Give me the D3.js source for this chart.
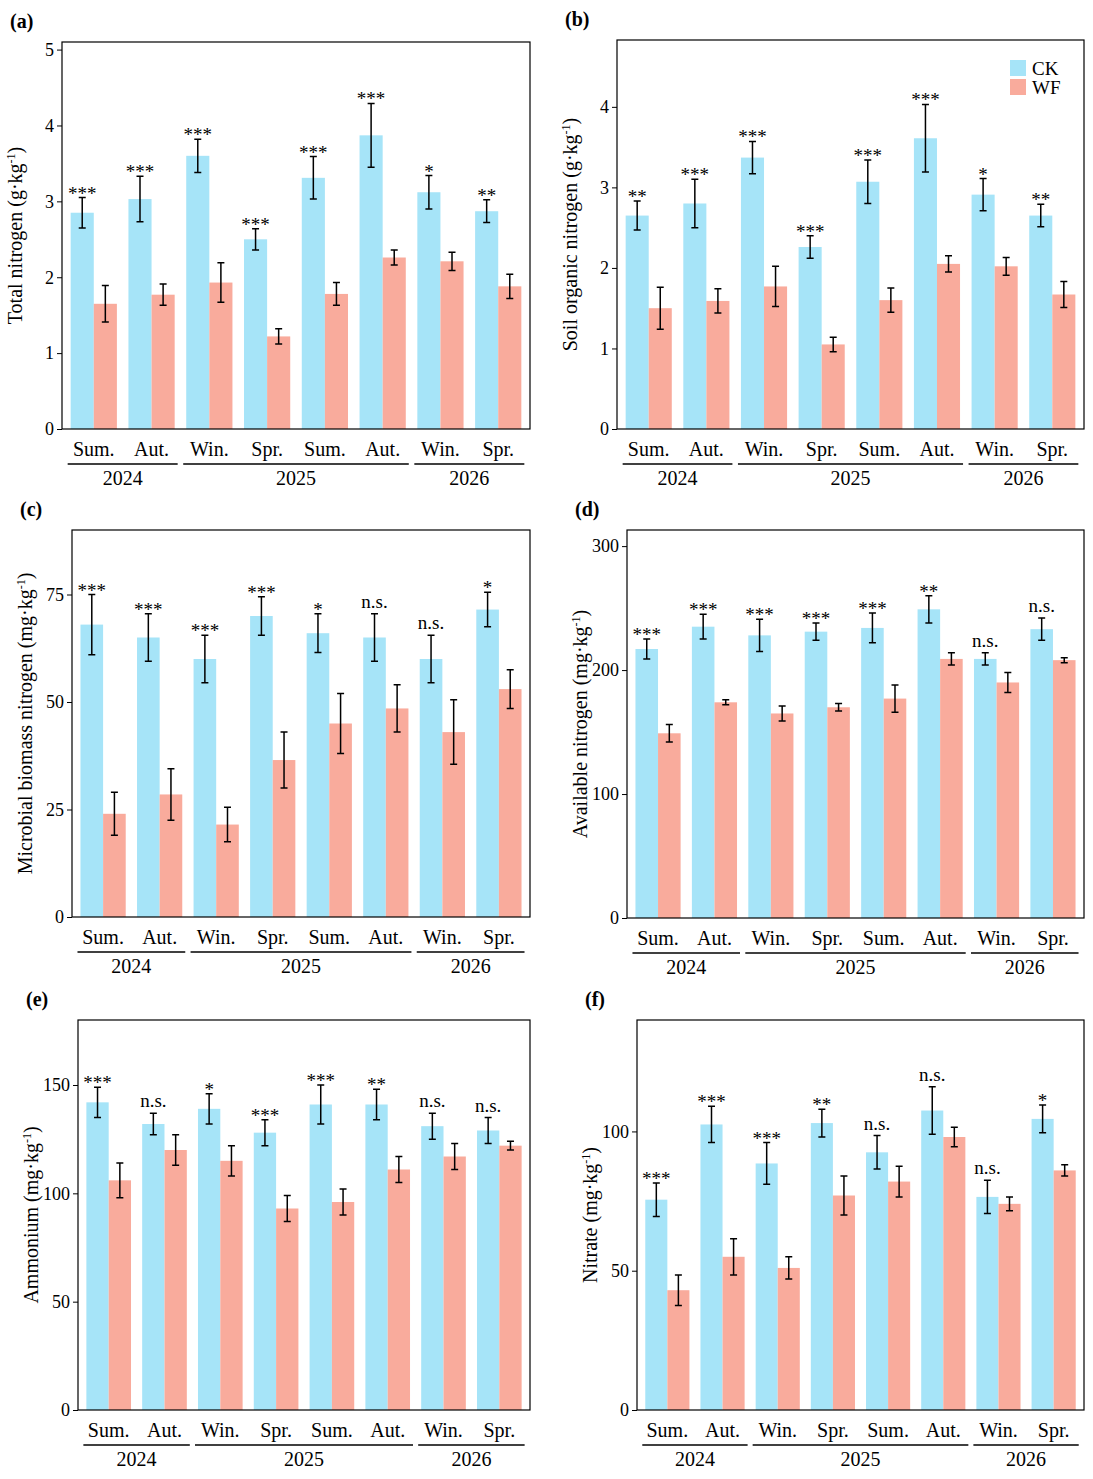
<!DOCTYPE html>
<html>
<head>
<script src="https://cdnjs.cloudflare.com/ajax/libs/d3/7.8.5/d3.min.js"></script>
<style>body{margin:0;background:#fff}text{font-family:"Liberation Serif","Times New Roman",serif}</style>
</head>
<body>
<script>
var seasons = ["Sum.","Aut.","Win.","Spr.","Sum.","Aut.","Win.","Spr."];
var years = [{label:"2024",from:0,to:1},{label:"2025",from:2,to:5},{label:"2026",from:6,to:7}];

var tnCK = [2.85,3.03,3.6,2.5,3.31,3.87,3.12,2.87], tnCKe = [0.2,0.3,0.22,0.14,0.28,0.42,0.22,0.15];
var tnWF = [1.65,1.77,1.93,1.22,1.78,2.26,2.21,1.88], tnWFe = [0.24,0.14,0.26,0.1,0.15,0.1,0.12,0.16];
var tnSig = ["***","***","***","***","***","***","*","**"];

var socCK = [2.65,2.8,3.37,2.26,3.07,3.61,2.91,2.65], socCKe = [0.18,0.3,0.2,0.14,0.27,0.42,0.2,0.14];
var socWF = [1.5,1.59,1.77,1.05,1.6,2.05,2.02,1.67], socWFe = [0.26,0.15,0.25,0.09,0.15,0.1,0.11,0.16];
var socSig = ["**","***","***","***","***","***","*","**"];

var mbCK = [68,65,60,70,66,65,60,71.5], mbCKe = [7,5.5,5.5,4.5,4.5,5.5,5.5,4];
var mbWF = [24,28.5,21.5,36.5,45,48.5,43,53], mbWFe = [5,6,4,6.5,7,5.5,7.5,4.5];
var mbSig = ["***","***","***","***","*","n.s.","n.s.","*"];

var anCK = [217,235,228,231,234,249,209,233], anCKe = [8,10,13,7,12,11,5,9];
var anWF = [149,174,165,170,177,209,190,208], anWFe = [7,2,6,3,11,5,8,2];
var anSig = ["***","***","***","***","***","**","n.s.","n.s."];

var amCK = [142,132,139,128,141,141,131,129], amCKe = [7,5,7,6,9,7,6,6];
var amWF = [106,120,115,93,96,111,117,122], amWFe = [8,7,7,6,6,6,6,2];
var amSig = ["***","n.s.","*","***","***","**","n.s.","n.s."];

var niCK = [75.5,102.5,88.5,103,92.5,107.5,76.5,104.5], niCKe = [6,6.5,7.5,5,6,8.5,6,5];
var niWF = [43,55,51,77,82,98,74,86], niWFe = [5.5,6.5,4,7,5.5,3.5,2.5,2];
var niSig = ["***","***","***","**","n.s.","n.s.","n.s.","*"];

var cCK = "#a6e4f8", cWF = "#f9ab9c";

var svg = d3.select("body").append("svg").attr("width",1093).attr("height",1479);

function panel(o){
  var g = svg.append("g");
  var y = d3.scaleLinear().domain([0,o.max]).range([o.b,o.t]);
  var x = d3.scaleBand().domain(d3.range(8)).range([o.l,o.r]).paddingInner(0.2).paddingOuter(0.15);
  var xs = d3.scaleBand().domain(["CK","WF"]).range([0,x.bandwidth()]);
  var gr = g.selectAll(".grp").data(d3.range(8)).enter().append("g").attr("transform",function(i){return "translate("+x(i)+",0)";});
  [["CK",o.ck,o.cke,cCK],["WF",o.wf,o.wfe,cWF]].forEach(function(s){
    gr.append("rect").attr("x",xs(s[0])).attr("width",xs.bandwidth()).attr("y",function(i){return y(s[1][i]);})
      .attr("height",function(i){return o.b-y(s[1][i]);}).attr("fill",s[3]);
    var cx = xs(s[0])+xs.bandwidth()/2;
    gr.append("path").attr("stroke","#000").attr("stroke-width",1.5).attr("fill","none").attr("d",function(i){
      var y1=y(s[1][i]+s[2][i]), y2=y(s[1][i]-s[2][i]);
      return "M"+(cx-3.5)+","+y1+"H"+(cx+3.5)+"M"+cx+","+y1+"V"+y2+"M"+(cx-3.5)+","+y2+"H"+(cx+3.5);});
    if(s[0]=="CK") gr.append("text").attr("x",cx).attr("y",function(i){return y(s[1][i]+s[2][i])-(o.sig[i]=="n.s."?6:-2);})
      .attr("text-anchor","middle").attr("font-size",19).text(function(i){return o.sig[i];});
  });
  g.append("rect").attr("x",o.l).attr("y",o.t).attr("width",o.r-o.l).attr("height",o.b-o.t).attr("fill","none").attr("stroke","#000").attr("stroke-width",1.2);
  g.append("g").attr("transform","translate("+o.l+",0)").call(d3.axisLeft(y).tickValues(o.ticks).tickFormat(d3.format("d")).tickSize(5).tickSizeOuter(0))
    .call(function(a){a.select(".domain").remove();a.selectAll("text").attr("font-size",18).attr("fill","#000").style("font-family","Liberation Serif");});
  g.selectAll(".sl").data(seasons).enter().append("text").attr("x",function(d,i){return x(i)+x.bandwidth()/2;}).attr("y",o.b+27)
    .attr("text-anchor","middle").attr("font-size",20).text(function(d){return d;});
  years.forEach(function(yr){
    var x1=x(yr.from)-3, x2=x(yr.to)+x.bandwidth()+3;
    g.append("line").attr("x1",x1).attr("x2",x2).attr("y1",o.b+35).attr("y2",o.b+35).attr("stroke","#000").attr("stroke-width",1.5);
    g.append("text").attr("x",(x1+x2)/2).attr("y",o.b+56).attr("text-anchor","middle").attr("font-size",20).text(yr.label);
  });
  g.append("text").attr("transform","translate("+(o.l-40)+","+((o.t+o.b)/2)+") rotate(-90)").attr("text-anchor","middle").attr("font-size",20)
    .html(o.label);
  g.append("text").attr("x",o.l-52).attr("y",o.t-14).attr("font-size",20).attr("font-weight","bold").text(o.tag);
}
var unit = function(a,b){return a+" ("+b+"·kg<tspan baseline-shift='super' font-size='12'>-1</tspan>)";};
panel({l:62,r:530,t:42,b:429,max:5.1,ticks:[0,1,2,3,4,5],ck:tnCK,cke:tnCKe,wf:tnWF,wfe:tnWFe,sig:tnSig,label:unit("Total nitrogen","g"),tag:"(a)"});
panel({l:617,r:1084,t:40,b:429,max:4.83,ticks:[0,1,2,3,4],ck:socCK,cke:socCKe,wf:socWF,wfe:socWFe,sig:socSig,label:unit("Soil organic nitrogen","g"),tag:"(b)"});
panel({l:72,r:530,t:530,b:917,max:90,ticks:[0,25,50,75],ck:mbCK,cke:mbCKe,wf:mbWF,wfe:mbWFe,sig:mbSig,label:unit("Microbial biomass nitrogen","mg"),tag:"(c)"});
panel({l:627,r:1084,t:530,b:918,max:313,ticks:[0,100,200,300],ck:anCK,cke:anCKe,wf:anWF,wfe:anWFe,sig:anSig,label:unit("Available nitrogen","mg"),tag:"(d)"});
panel({l:78,r:530,t:1020,b:1410,max:180,ticks:[0,50,100,150],ck:amCK,cke:amCKe,wf:amWF,wfe:amWFe,sig:amSig,label:unit("Ammonium","mg"),tag:"(e)"});
panel({l:637,r:1084,t:1020,b:1410,max:140,ticks:[0,50,100],ck:niCK,cke:niCKe,wf:niWF,wfe:niWFe,sig:niSig,label:unit("Nitrate","mg"),tag:"(f)"});

var leg = svg.append("g").attr("transform","translate(1010,60)");
[["CK",cCK],["WF",cWF]].forEach(function(d,i){
  leg.append("rect").attr("x",0).attr("y",i*19).attr("width",16).attr("height",16).attr("fill",d[1]);
  leg.append("text").attr("x",22).attr("y",i*19+15).attr("font-size",19).text(d[0]);
});
</script>
</body>
</html>
